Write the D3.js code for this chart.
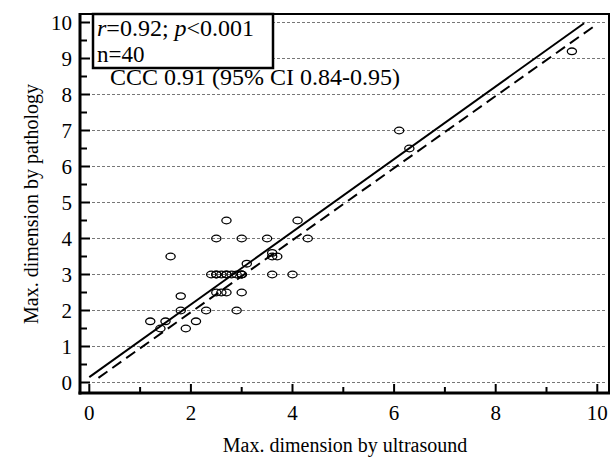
<!DOCTYPE html>
<html>
<head>
<meta charset="utf-8">
<script src="https://cdn.jsdelivr.net/npm/d3@7"></script>
<style>
  body { margin: 0; background: #fff; }
  text { font-family: "Liberation Serif", "Times New Roman", serif; fill: #000; }
</style>
</head>
<body>
<div id="chart"></div>
<script>
// values
var ultrasound = [2.7, 4.1, 2.5, 3.0, 3.5, 4.3, 1.6, 3.6, 3.6, 3.7, 3.1, 3.6, 4.0, 3.0,
    1.8, 1.8, 2.3, 2.9, 1.2, 1.5, 2.1, 1.9, 1.4, 6.1, 6.3, 9.5,
    2.5, 2.6, 2.7,
    2.4, 2.5, 2.5, 2.6, 2.7, 2.7, 2.8, 2.9, 3.0, 3.0, 3.0];
var pathology = [4.5, 4.5, 4.0, 4.0, 4.0, 4.0, 3.5, 3.6, 3.5, 3.5, 3.3, 3.0, 3.0, 2.5,
    2.4, 2.0, 2.0, 2.0, 1.7, 1.7, 1.7, 1.5, 1.5, 7.0, 6.5, 9.2,
    2.5, 2.5, 2.5,
    3.0, 3.0, 3.0, 3.0, 3.0, 3.0, 3.0, 3.0, 3.0, 3.0, 3.0];

// fitted line (solid) and line of concordance (dashed), end points
var fitX = [0, 9.74], fitY = [0.15, 9.98];
var concX = [0.18, 9.97], concY = [0.13, 9.93];

var xTicks = [0, 2, 4, 6, 8, 10];
var xMinor = [1, 3, 5, 7, 9];
var yTicks = [0, 1, 2, 3, 4, 5, 6, 7, 8, 9, 10];
var yMinor = [0.5, 1.5, 2.5, 3.5, 4.5, 5.5, 6.5, 7.5, 8.5, 9.5];

var statsLines = ["r=0.92; p<0.001", "n=40"];
var cccLabel = "CCC 0.91 (95% CI 0.84-0.95)";

var width = 612, height = 462;
var frameL = 80, frameT = 14, frameR = 609, frameB = 393;

var svg = d3.select("#chart").append("svg")
    .attr("width", width)
    .attr("height", height);

var x = d3.scaleLinear().domain([0, 10]).range([89.3, 597.3]);
var y = d3.scaleLinear().domain([0, 10]).range([382.5, 22.5]);

// dashed grid
svg.append("g").selectAll("line")
    .data(yTicks)
    .enter().append("line")
    .attr("x1", frameL + 2).attr("x2", frameR - 3)
    .attr("y1", function (d) { return y(d); })
    .attr("y2", function (d) { return y(d); })
    .attr("stroke", "#777")
    .attr("stroke-width", 1)
    .attr("stroke-dasharray", "3,2");

var line = d3.line()
    .x(function (d) { return x(d[0]); })
    .y(function (d) { return y(d[1]); });

svg.append("path")
    .attr("d", line(d3.zip(fitX, fitY)))
    .attr("fill", "none")
    .attr("stroke", "#000")
    .attr("stroke-width", 2);

svg.append("path")
    .attr("d", line(d3.zip(concX, concY)))
    .attr("fill", "none")
    .attr("stroke", "#000")
    .attr("stroke-width", 2)
    .attr("stroke-dasharray", "11,6");

// points
svg.append("g").selectAll("ellipse")
    .data(d3.zip(ultrasound, pathology))
    .enter().append("ellipse")
    .attr("cx", function (d) { return x(d[0]); })
    .attr("cy", function (d) { return y(d[1]); })
    .attr("rx", 4.6)
    .attr("ry", 3.3)
    .attr("fill", "none")
    .attr("stroke", "#000")
    .attr("stroke-width", 1.3);

// frame
svg.append("rect")
    .attr("x", frameL).attr("y", frameT)
    .attr("width", frameR - frameL).attr("height", frameB - frameT)
    .attr("fill", "none")
    .attr("stroke", "#000")
    .attr("stroke-width", 2);
svg.append("line").attr("x1", frameL).attr("x2", frameL).attr("y1", frameT - 1).attr("y2", frameB + 1.5)
    .attr("stroke", "#000").attr("stroke-width", 3);
svg.append("line").attr("x1", frameL - 1.5).attr("x2", frameR + 1).attr("y1", frameB).attr("y2", frameB)
    .attr("stroke", "#000").attr("stroke-width", 3);

// inward ticks
var ticks = svg.append("g").attr("stroke", "#000").attr("stroke-width", 2);
ticks.selectAll(".ym").data(yTicks).enter().append("line")
    .attr("x1", frameL).attr("x2", frameL + 10)
    .attr("y1", function (d) { return y(d); }).attr("y2", function (d) { return y(d); });
ticks.selectAll(".yn").data(yMinor).enter().append("line")
    .attr("x1", frameL).attr("x2", frameL + 7)
    .attr("y1", function (d) { return y(d); }).attr("y2", function (d) { return y(d); });
ticks.selectAll(".xm").data(xTicks).enter().append("line")
    .attr("x1", function (d) { return x(d); }).attr("x2", function (d) { return x(d); })
    .attr("y1", frameB).attr("y2", frameB - 9);
ticks.selectAll(".xn").data(xMinor).enter().append("line")
    .attr("x1", function (d) { return x(d); }).attr("x2", function (d) { return x(d); })
    .attr("y1", frameB).attr("y2", frameB - 6);

// tick labels
svg.append("g").selectAll("text")
    .data(yTicks)
    .enter().append("text")
    .attr("x", 72)
    .attr("y", function (d) { return y(d); })
    .attr("dy", "0.35em")
    .attr("text-anchor", "end")
    .style("font-size", "21px")
    .text(function (d) { return d; });

svg.append("g").selectAll("text")
    .data(xTicks)
    .enter().append("text")
    .attr("x", function (d) { return x(d); })
    .attr("y", 420)
    .attr("text-anchor", "middle")
    .style("font-size", "21px")
    .text(function (d) { return d; });

// axis titles
svg.append("text")
    .attr("x", 345).attr("y", 452)
    .attr("text-anchor", "middle")
    .style("font-size", "20px")
    .text("Max. dimension by ultrasound");

svg.append("text")
    .attr("transform", "translate(38,204) rotate(-90)")
    .attr("text-anchor", "middle")
    .style("font-size", "20px")
    .text("Max. dimension by pathology");

// stats box
svg.append("rect")
    .attr("x", 93).attr("y", frameT)
    .attr("width", 180).attr("height", 54)
    .attr("fill", "#fff")
    .attr("stroke", "#000")
    .attr("stroke-width", 2.5);

var s1 = svg.append("text").attr("x", 97).attr("y", 36).style("font-size", "24px");
s1.append("tspan").style("font-style", "italic").text("r");
s1.append("tspan").text("=0.92; ");
s1.append("tspan").style("font-style", "italic").text("p");
s1.append("tspan").text("<0.001");

svg.append("text").attr("x", 97).attr("y", 62).style("font-size", "23px").text(statsLines[1]);

svg.append("text")
    .attr("x", 110).attr("y", 85)
    .style("font-size", "24px")
    .text(cccLabel);
</script>
</body>
</html>
